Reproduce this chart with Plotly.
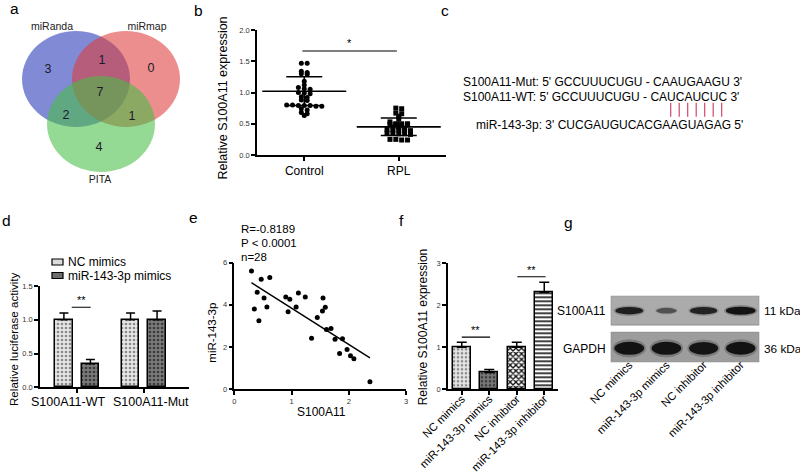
import numpy as np
import plotly.graph_objects as go

W, H = 800, 476
FONT = "Arial, 'Liberation Sans', sans-serif"

# ------------------------------------------------------------------ data
# (a) Venn diagram
venn_set_names = ["miRanda", "miRmap", "PITA"]
venn_regions = ["miRanda only", "miRanda∩miRmap", "miRmap only", "all three",
                "miRanda∩PITA", "miRmap∩PITA", "PITA only"]
venn_counts = [3, 1, 0, 7, 2, 1, 4]

# (b) Relative S100A11 expression
b_groups = ["Control", "RPL"]
control_values = [1.47, 1.47, 1.34, 1.32, 1.30, 1.29, 1.18, 1.12, 1.08, 1.06,
                  1.05, 1.00, 0.99, 0.98, 0.93, 0.92, 0.88, 0.87, 0.80, 0.79,
                  0.79, 0.78, 0.78, 0.79, 0.80, 0.74, 0.72, 0.68, 0.66, 0.63]
rpl_values = [0.75, 0.74, 0.67, 0.66, 0.62, 0.58, 0.53, 0.50, 0.50, 0.49,
              0.48, 0.48, 0.49, 0.50, 0.45, 0.44, 0.43, 0.41, 0.40, 0.40,
              0.39, 0.40, 0.35, 0.34, 0.34, 0.33, 0.35, 0.25, 0.24, 0.24, 0.25]
b_means = [1.02, 0.45]
b_sds = [0.23, 0.14]
b_sig = "*"

# (c) sequences
seq_mut = "S100A11-Mut: 5' GCCUUUCUGU - CAAUGAAGU 3'"
seq_wt = "S100A11-WT: 5' GCCUUUCUGU - CAUCAUCUC 3'"
seq_mir = "miR-143-3p: 3' CUCGAUGUCACGAAGUAGAG 5'"
n_pairs = 7

# (d) luciferase
d_groups = ["S100A11-WT", "S100A11-Mut"]
d_series = ["NC mimics", "miR-143-3p mimics"]
luc_nc = [1.00, 1.00]
luc_nc_err = [0.10, 0.10]
luc_mir = [0.35, 1.00]
luc_mir_err = [0.06, 0.13]

# (e) correlation
e_s100a11 = [0.30, 0.47, 0.62, 0.40, 0.52, 0.35, 0.57, 0.43, 0.90, 0.97,
             0.94, 1.08, 1.12, 1.24, 1.35, 1.45, 1.55, 1.54, 1.59, 1.61,
             1.69, 1.76, 1.84, 1.89, 1.97, 2.03, 2.09, 2.37]
e_mir = [5.60, 5.21, 5.30, 4.60, 4.32, 3.80, 3.89, 3.24, 4.37, 4.26,
         3.67, 3.89, 4.56, 4.37, 2.41, 3.40, 4.32, 3.70, 3.88, 2.83,
         2.88, 2.36, 1.69, 2.39, 1.88, 1.58, 1.44, 0.35]
e_stats = ["R=-0.8189", "P < 0.0001", "n=28"]

# (f) qPCR
f_groups = ["NC mimics", "miR-143-3p mimics", "NC inhibitor", "miR-143-3p inhibitor"]
f_values = [1.00, 0.40, 1.00, 2.31]
f_err = [0.12, 0.07, 0.12, 0.24]

# (g) western blot band intensities
g_s100a11 = [0.85, 0.30, 0.80, 1.00]
g_gapdh = [1.00, 1.00, 0.95, 0.98]
g_labels = ["S100A11", "GAPDH"]
g_sizes = ["11 kDa", "36 kDa"]


# ------------------------------------------------------------------ helpers
def dx(a, b):
    return [a / W, b / W]


def dy(top, bottom):
    return [1 - bottom / H, 1 - top / H]


def px(x):
    return x / W


def py(y):
    return 1 - y / H


def swarm(vals, tol=0.035, step=0.062):
    vals = np.asarray(vals)
    order = np.argsort(-vals, kind="stable")
    rows = []
    for i in order:
        if rows and abs(vals[rows[-1][0]] - vals[i]) < tol:
            rows[-1].append(i)
        else:
            rows.append([i])
    offs = np.zeros(len(vals))
    for r in rows:
        n = len(r)
        for k, i in enumerate(r):
            offs[i] = (k - (n - 1) / 2) * step
    return offs


fig = go.Figure()
shapes = []
annotations = []

axis_common = dict(showline=True, linecolor="black", linewidth=1.5, ticks="outside",
                   ticklen=4, tickwidth=1.5, tickcolor="black", showgrid=False,
                   zeroline=False, fixedrange=True, automargin=False)

# ------------------------------------------------------------------ (a) Venn
venn_centers = [(76, 79), (126, 79), (101, 124)]
venn_colors = ["rgba(45,60,185,0.6)", "rgba(222,60,60,0.58)", "rgba(70,190,70,0.58)"]
for (cx, cy), col in zip(venn_centers, venn_colors):
    shapes.append(dict(type="circle", xref="x", yref="y", x0=cx - 54, x1=cx + 54,
                       y0=cy - 48, y1=cy + 48, fillcolor=col, line=dict(width=0),
                       layer="below"))
venn_text_pos = [(48, 70), (102, 61), (151, 69), (100, 93), (66, 116), (132, 117), (99, 148)]
fig.add_trace(go.Scatter(x=[p[0] for p in venn_text_pos], y=[p[1] for p in venn_text_pos],
                         text=[str(c) for c in venn_counts], mode="text",
                         textfont=dict(family=FONT, size=12.5, color="#1a1a2a"),
                         hovertext=venn_regions, xaxis="x", yaxis="y", showlegend=False))
fig.add_trace(go.Scatter(x=[52, 147, 100], y=[27, 27, 180], text=venn_set_names, mode="text",
                         textfont=dict(family=FONT, size=10.5, color="#222"),
                         xaxis="x", yaxis="y", showlegend=False))

# ------------------------------------------------------------------ (b)
for gi, (vals, sym) in enumerate([(control_values, "circle"), (rpl_values, "square")]):
    offs = swarm(vals)
    fig.add_trace(go.Scatter(x=gi + offs, y=vals, mode="markers", xaxis="x2", yaxis="y2",
                             marker=dict(symbol=sym, size=5, color="black"), showlegend=False))
fig.add_trace(go.Scatter(x=[0, 1], y=b_means, mode="markers", xaxis="x2", yaxis="y2",
                         marker=dict(symbol="line-ew", size=60, line=dict(width=1.6, color="black")),
                         error_y=dict(type="data", array=b_sds, color="black", thickness=1.5, width=18),
                         showlegend=False))
shapes.append(dict(type="line", xref="x2", yref="y2", x0=-0.02, x1=0.98, y0=1.664, y1=1.664,
                   line=dict(color="black", width=1.2)))
annotations.append(dict(x=0.48, y=1.664, xref="x2", yref="y2", text=b_sig, showarrow=False,
                        yanchor="bottom", xanchor="center",
                        font=dict(family=FONT, size=11, color="black")))

# ------------------------------------------------------------------ (c) text
annotations += [
    dict(x=px(460.5), y=py(81.7), text=seq_mut),
    dict(x=px(460.5), y=py(96.7), text=seq_wt),
    dict(x=px(474.3), y=py(125), text=seq_mir),
]
for k in range(n_pairs):
    xx = 670.7 + 8.5 * k
    shapes.append(dict(type="line", xref="paper", yref="paper", x0=px(xx), x1=px(xx),
                       y0=py(102.7), y1=py(116.7), line=dict(color="#d0466a", width=1.2)))

# ------------------------------------------------------------------ (d)
fig.add_trace(go.Bar(x=[0, 1], y=luc_nc, name=d_series[0], xaxis="x4", yaxis="y4",
                     width=0.265, offset=-0.334,
                     marker=dict(color="#e6e6e6", line=dict(color="black", width=1.5),
                                 pattern=dict(shape=".", fgcolor="#8a8a8a", bgcolor="#e6e6e6",
                                              size=4, solidity=0.35)),
                     error_y=dict(type="data", symmetric=False, array=luc_nc_err, arrayminus=[0, 0],
                                  color="black", thickness=1.5, width=4.5),
                     showlegend=False))
fig.add_trace(go.Bar(x=[0, 1], y=luc_mir, name=d_series[1], xaxis="x4", yaxis="y4",
                     width=0.26, offset=0.066,
                     marker=dict(color="#707070", line=dict(color="black", width=1.5),
                                 pattern=dict(shape=".", fgcolor="#3a3a3a", bgcolor="#7a7a7a",
                                              size=4, solidity=0.35)),
                     error_y=dict(type="data", symmetric=False, array=luc_mir_err, arrayminus=[0, 0],
                                  color="black", thickness=1.5, width=4.5),
                     showlegend=False))
shapes.append(dict(type="line", xref="x4", yref="y4", x0=-0.084, x1=0.2, y0=1.185, y1=1.185,
                   line=dict(color="black", width=1.2)))
annotations.append(dict(x=0.058, y=1.17, xref="x4", yref="y4", text="**", showarrow=False,
                        yanchor="bottom", xanchor="center",
                        font=dict(family=FONT, size=11, color="black")))
# category labels (drawn slightly left of the tick, as in the source figure)
for lab, cx in zip(d_groups, [68, 151]):
    annotations.append(dict(x=px(cx), y=py(401.7), text=lab, xanchor="center",
                            font=dict(family=FONT, size=12.5, color="black")))
# legend
for (yy, fill), name in zip([(262.0, "#dcdcdc"), (275.5, "#6e6e6e")], d_series):
    shapes.append(dict(type="rect", xref="paper", yref="paper", x0=px(52), x1=px(63),
                       y0=py(yy + 3), y1=py(yy - 3), fillcolor=fill,
                       line=dict(color="black", width=1.2)))
    annotations.append(dict(x=px(65.5), y=py(yy), text=name,
                            font=dict(family=FONT, size=12, color="black")))

# ------------------------------------------------------------------ (e)
fig.add_trace(go.Scatter(x=e_s100a11, y=e_mir, mode="markers", xaxis="x5", yaxis="y5",
                         marker=dict(size=5, color="black"), showlegend=False))
slope, icpt = np.polyfit(e_s100a11, e_mir, 1)
xl = np.array([min(e_s100a11), max(e_s100a11)])
fig.add_trace(go.Scatter(x=xl, y=slope * xl + icpt, mode="lines", xaxis="x5", yaxis="y5",
                         line=dict(color="black", width=1.5), showlegend=False))
for t, yy in zip(e_stats, [228.5, 242.7, 256.7]):
    annotations.append(dict(x=px(239), y=py(yy), text=t,
                            font=dict(family=FONT, size=11.5, color="black")))

# ------------------------------------------------------------------ (f)
f_styles = [  # (shape, fg, bg, size, solidity)
    (".", "#8a8a8a", "#e6e6e6", 4, 0.35),
    (".", "#3a3a3a", "#7a7a7a", 4, 0.35),
    ("x", "#111111", "#ffffff", 4, 0.55),
    ("-", "#111111", "#ffffff", 4, 0.4),
]
for i, (val, err, (shp, fg, bg, sz, sol)) in enumerate(zip(f_values, f_err, f_styles)):
    fig.add_trace(go.Bar(x=[i], y=[val], name=f_groups[i], xaxis="x6", yaxis="y6",
                         width=0.67, offset=-0.335,
                         marker=dict(color=bg, line=dict(color="black", width=1.5),
                                     pattern=dict(shape=shp, fgcolor=fg, bgcolor=bg,
                                                  size=sz, solidity=sol, fillmode="replace")),
                         error_y=dict(type="data", symmetric=False, array=[err], arrayminus=[0],
                                      color="black", thickness=1.5, width=5),
                         showlegend=False))
for x0, x1, yy in [(0.0, 1.03, 1.24), (2.02, 3.05, 2.68)]:
    shapes.append(dict(type="line", xref="x6", yref="y6", x0=x0, x1=x1, y0=yy, y1=yy,
                       line=dict(color="black", width=1.2)))
    annotations.append(dict(x=(x0 + x1) / 2, y=yy - 0.03, xref="x6", yref="y6", text="**",
                            showarrow=False, yanchor="bottom", xanchor="center",
                            font=dict(family=FONT, size=11, color="black")))

# ------------------------------------------------------------------ (g) blot
blot_rows = [(0, 29.3, "#ababab", 15.0, g_s100a11, 8.0),
             (36.6, 66.6, "#9d9d9d", 52.6, g_gapdh, 13.0)]
for y0, y1, bg, yc, vals, hh in blot_rows:
    shapes.append(dict(type="rect", xref="x7", yref="y7", x0=-0.5, x1=3.5, y0=y0, y1=y1,
                       fillcolor=bg, line=dict(color="#8c8c8c", width=1), layer="below"))
    for i, v in enumerate(vals):
        w = 0.45 + 0.35 * v
        h = hh * (0.6 + 0.4 * v)
        shapes.append(dict(type="circle", xref="x7", yref="y7", x0=i - w * 0.56, x1=i + w * 0.56,
                           y0=yc - h * 0.7, y1=yc + h * 0.7,
                           fillcolor="rgba(20,20,20,%.2f)" % (0.25 * v), line=dict(width=0)))
        shapes.append(dict(type="circle", xref="x7", yref="y7", x0=i - w / 2, x1=i + w / 2,
                           y0=yc - h / 2, y1=yc + h / 2,
                           fillcolor="rgba(15,15,15,%.2f)" % (0.35 + 0.62 * v), line=dict(width=0)))
fig.add_trace(go.Scatter(x=[0, 1, 2, 3], y=[15, 15, 15, 15], mode="markers", xaxis="x7", yaxis="y7",
                         marker=dict(size=1, opacity=0), hoverinfo="skip", showlegend=False))
for lab, sz, yy in zip(g_labels, g_sizes, [311, 349]):
    annotations.append(dict(x=px(608), y=py(yy), text=lab, xanchor="right",
                            font=dict(family=FONT, size=12, color="black")))
    annotations.append(dict(x=px(761.5), y=py(yy), text=sz,
                            font=dict(family=FONT, size=11.8, color="black")))

# ------------------------------------------------------------------ axis titles & panel letters
annotations += [
    dict(x=px(222.5), y=py(98), text="Relative S100A11 expression", textangle=-90, xanchor="center",
         font=dict(family=FONT, size=12.5, color="black")),
    dict(x=px(13), y=py(339), text="Relative luciferase activity", textangle=-90, xanchor="center",
         font=dict(family=FONT, size=11.6, color="black")),
    dict(x=px(321.7), y=py(411.7), text="S100A11", xanchor="center",
         font=dict(family=FONT, size=12, color="black")),
    dict(x=px(211.7), y=py(333), text="miR-143-3p", textangle=-90, xanchor="center",
         font=dict(family=FONT, size=11.5, color="black")),
    dict(x=px(423.3), y=py(327), text="Relative S100A11 expression", textangle=-90, xanchor="center",
         font=dict(family=FONT, size=12, color="black")),
]
for letter, (lx, ly) in zip("abcdefg", [(14.5, 8), (198.5, 10), (445, 10), (6, 220),
                                         (193, 218), (401, 220), (568, 222)]):
    annotations.append(dict(x=px(lx), y=py(ly), text=letter, xanchor="center",
                            font=dict(family=FONT, size=15.5, color="black")))

for a in annotations:
    a.setdefault("xref", "paper")
    a.setdefault("yref", "paper")
    a.setdefault("showarrow", False)
    a.setdefault("xanchor", "left")
    a.setdefault("yanchor", "middle")
    a.setdefault("font", dict(family=FONT, size=12, color="black"))

small_tick = dict(family=FONT, size=7.5, color="#333")
cat_tick = dict(family=FONT, size=12, color="black")
rot_tick = dict(family=FONT, size=11.3, color="black")
hidden = dict(visible=False, fixedrange=True, automargin=False, showgrid=False, zeroline=False)

fig.update_layout(
    template="none",
    width=W, height=H, margin=dict(l=0, r=0, t=0, b=0, pad=0, autoexpand=False),
    paper_bgcolor="white", plot_bgcolor="rgba(0,0,0,0)",
    font=dict(family=FONT, color="black"), showlegend=False,
    shapes=shapes, annotations=annotations, bargap=0, barmode="overlay",
    xaxis=dict(domain=dx(0, 200), range=[0, 200], anchor="y", **hidden),
    yaxis=dict(domain=dy(0, 200), range=[200, 0], anchor="x", **hidden),
    xaxis2=dict(domain=dx(257, 446), range=[-0.5, 1.5], tickvals=[0, 1], ticktext=b_groups,
                tickangle=0, tickfont=cat_tick, anchor="y2", **axis_common),
    yaxis2=dict(domain=dy(30, 155), range=[0, 2], dtick=0.5, tickformat=".1f",
                tickfont=small_tick, anchor="x2", **axis_common),
    xaxis4=dict(domain=dx(40, 189), range=[-0.56, 1.675], tickvals=[0, 1], ticktext=["", ""],
                tickangle=0, tickfont=cat_tick, anchor="y4", **axis_common),
    yaxis4=dict(domain=dy(286, 387.3), range=[0, 1.5], dtick=0.5, tickformat=".1f",
                tickfont=small_tick, anchor="x4", **axis_common),
    xaxis5=dict(domain=dx(234.3, 406), range=[0, 3], dtick=1, tickangle=0, tickfont=small_tick,
                anchor="y5", **axis_common),
    yaxis5=dict(domain=dy(262.7, 389), range=[0, 6], dtick=2, tickfont=small_tick,
                anchor="x5", **axis_common),
    xaxis6=dict(domain=dx(448, 558), range=[-0.5, 3.5], tickvals=[0, 1, 2, 3], ticktext=f_groups,
                tickangle=-45, tickfont=rot_tick, ticklabelstandoff=-7, anchor="y6", **axis_common),
    yaxis6=dict(domain=dy(263.3, 389.3), range=[0, 3], dtick=1, tickfont=small_tick,
                anchor="x6", **axis_common),
    xaxis7=dict(domain=dx(610.7, 759.3), range=[-0.5, 3.5], tickvals=[0, 1, 2, 3], ticktext=f_groups,
                tickangle=-45, tickfont=rot_tick, ticklabelstandoff=-7, showline=False, ticks="",
                showgrid=False, zeroline=False, anchor="y7", fixedrange=True, automargin=False),
    yaxis7=dict(domain=dy(295.7, 362.3), range=[66.6, 0], anchor="x7", **hidden),
)

fig.write_html("out.html", config={"displayModeBar": False},
               post_script="document.body.style.margin='0px';document.body.style.overflow='hidden';")
